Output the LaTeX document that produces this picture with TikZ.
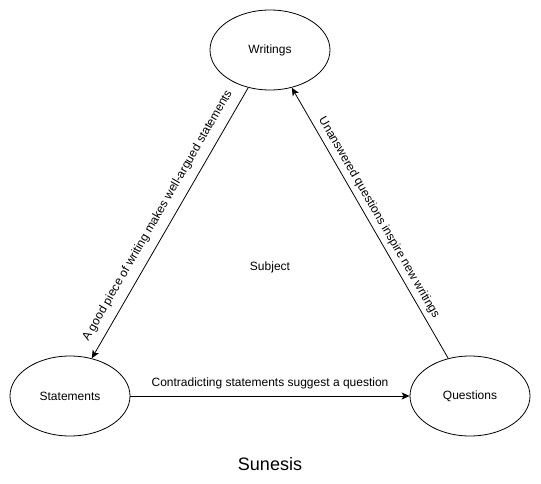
\documentclass[tikz,border=0pt]{standalone}
\usepackage{fontspec}
\setmainfont{Liberation Sans}
\usetikzlibrary{shapes.geometric,arrows.meta}
\tikzstyle{topic}=[draw,ellipse,minimum width=120pt,minimum height=80pt,inner sep=0pt,font=\fontsize{12}{14}\selectfont]
\tikzstyle{lbl}=[font=\fontsize{12}{14}\selectfont]
\newcommand{\myedge}[4]{ \draw[->] (#1) -- node[lbl,midway,sloped,#2] {#3} (#4);}

\begin{document}
\begin{tikzpicture}[x=1pt,y=-1pt,>={Stealth[length=8pt,width=7pt,inset=2pt]},line width=0.8pt]
    \useasboundingbox (0,0) rectangle (541,484);

    \node[topic] (writings) at (270,50) {Writings};
    \node[topic] (statements) at (70,396) {Statements};
    \node[topic] (questions) at (470,396) {Questions};
    \node[lbl] (subject) at (270,267) {Subject};
    \node[font=\fontsize{18}{20}\selectfont] (sunesis) at (270,464) {Sunesis};

    \myedge{writings}{above=5pt}{A good piece of writing makes well-argued statements}{statements}
    \myedge{questions}{above=1pt}{Unanswered questions inspire new writings}{writings}
    \myedge{statements}{above=3pt}{Contradicting statements suggest a question}{questions}
\end{tikzpicture}
\end{document}
